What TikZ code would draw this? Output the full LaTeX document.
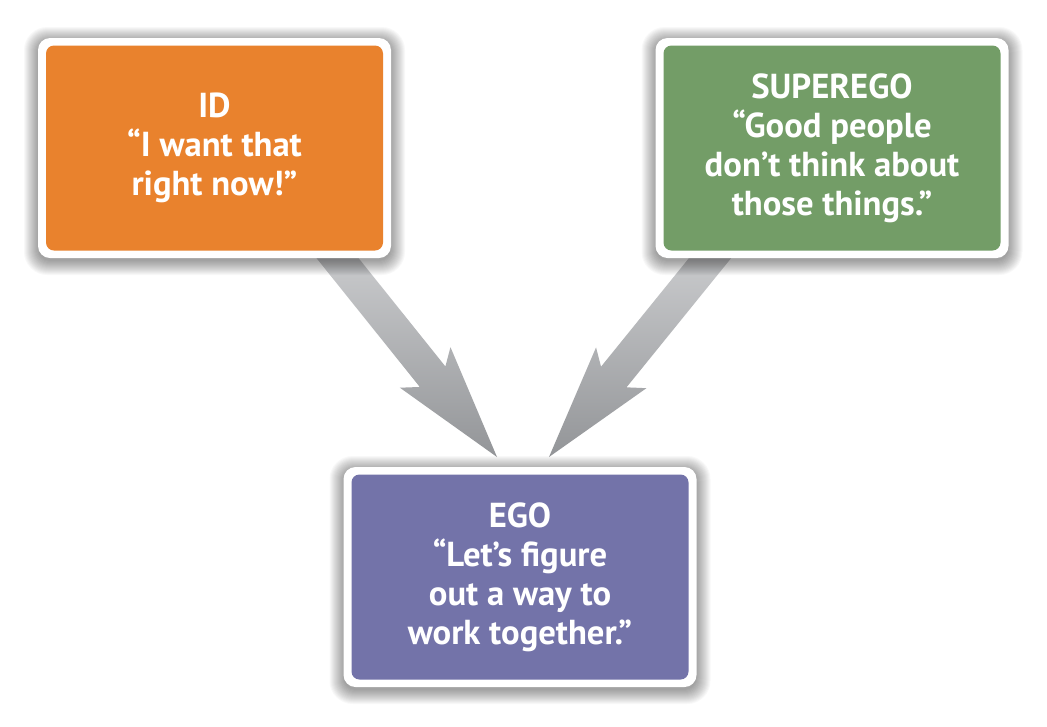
\documentclass[tikz,border=0pt]{standalone}
\usepackage{fontspec}
\setmainfont{PT Sans}
\usetikzlibrary{calc}
\definecolor{idorange}{HTML}{E9822D}
\definecolor{supgreen}{HTML}{739D67}
\definecolor{egopurple}{HTML}{7373A9}
\definecolor{arrowlight}{HTML}{D0D1D3}
\definecolor{arrowdark}{HTML}{939598}
\tikzset{
  frame/.style={rounded corners=9pt, fill=white, draw=none,
    minimum width=264.75pt, minimum height=165pt},
  shadowlayer/.style={fill=black, opacity=0.028, draw=none},
  psybox/.style={rounded corners=6pt, draw=none,
    minimum width=252.75pt, minimum height=153.75pt,
    text=white, align=center,
    font=\fontsize{26}{29.3}\selectfont\bfseries},
  fatarrow/.style={top color=arrowlight, bottom color=arrowdark, draw=none}
}
\newcommand\fatarrowpath[2]{%
  \path[fatarrow] ($(#1)!12.3pt!90:(#2)$)
    -- ($(#2)!77.2pt!(#1)!12.3pt!-90:(#1)$)
    -- ($(#2)!86.1pt!(#1)!24.3pt!-90:(#1)$)
    -- (#2)
    -- ($(#2)!86.1pt!(#1)!24.3pt!90:(#1)$)
    -- ($(#2)!77.2pt!(#1)!12.3pt!90:(#1)$)
    -- ($(#1)!12.3pt!-90:(#2)$) -- cycle;}
\newcommand\softshadow[1]{%
  \foreach \k in {0,...,14}{%
    \fill[shadowlayer, rounded corners=9pt+0.6*\k pt]
      ($(#1)+(-176.5-\k,113+\k)$) rectangle ($(#1)+(176.5+\k,-107-\k)$);}}
\begin{document}
\begin{tikzpicture}[x=0.75pt,y=-0.75pt]
\useasboundingbox[fill=white] (0,0) rectangle (1047,726);
% centres
\coordinate (idc) at (214.5,148);
\coordinate (supc) at (832,148);
\coordinate (egoc) at (520,577);
% arrow anchors
\coordinate (idtail) at (323,240);
\coordinate (idtip) at (497,457);
\coordinate (suptail) at (724.7,240);
\coordinate (suptip) at (549,457);
\fatarrowpath{idtail}{idtip}
\fatarrowpath{suptail}{suptip}
% shadows
\softshadow{idc}
\softshadow{supc}
\softshadow{egoc}
% frames
\node[frame] (idframe) at (idc) {};
\node[frame] (supframe) at (supc) {};
\node[frame] (egoframe) at (egoc) {};
% boxes
\node[psybox, fill=idorange] (id) at (idframe) {ID\\“I want that\\right now!”};
\node[psybox, fill=supgreen] (sup) at (supframe) {SUPEREGO\\“Good people\\don’t think about\\those things.”};
\node[psybox, fill=egopurple] (ego) at (egoframe) {EGO\\“Let’s figure\\out a way to\\work together.”};
\end{tikzpicture}
\end{document}
